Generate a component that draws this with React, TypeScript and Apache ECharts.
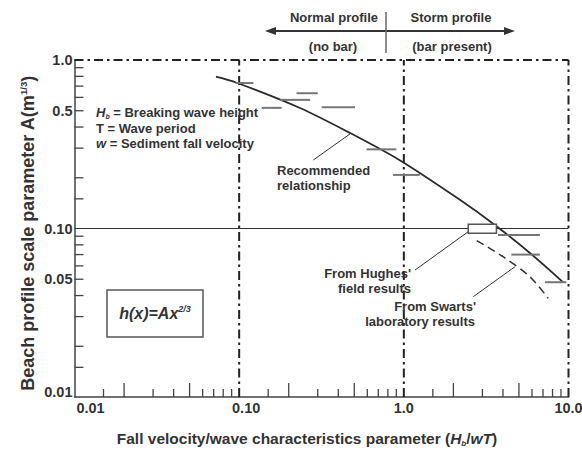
import React, { useEffect, useRef } from 'react';
import * as echarts from 'echarts';

// ---- data ----
const xTickValues = [0.015, 0.02, 0.03, 0.04, 0.05, 0.06, 0.07, 0.08, 0.09, 0.15, 0.2, 0.3, 0.4, 0.5, 0.6, 0.7, 0.8, 0.9, 1.5, 2, 3, 4, 5, 6, 7, 8, 9];
const xMajorTicks = [0.02, 0.05, 0.2, 0.5, 2, 5];
const yTickValues = [0.015, 0.02, 0.03, 0.04, 0.05, 0.06, 0.07, 0.08, 0.09, 0.15, 0.2, 0.3, 0.4, 0.5, 0.6, 0.7, 0.8, 0.9];
const xLabelValues = [0.01, 0.1, 1, 10];
const xLabelTexts = ['0.01', '0.10', '1.0', '10.0'];
const yLabelValues = [1, 0.5, 0.1, 0.05, 0.01];
const yLabelTexts = ['1.0', '0.5', '0.10', '0.05', '0.01'];
const regimeBoundsX = [0.1, 1, 10];

// recommended relationship curve
const curveX = [0.0723, 0.0966, 0.234, 0.471, 0.939, 2.19, 3.57, 5.83, 9.25];
const curveY = [0.796, 0.733, 0.519, 0.369, 0.255, 0.148, 0.105, 0.0716, 0.0481];

// field data ranges (horizontal bars)
const segX0 = [0.095, 0.223, 0.177, 0.137, 0.317, 0.594, 0.86, 3.73, 4.5, 7.2];
const segX1 = [0.122, 0.3, 0.27, 0.181, 0.505, 0.9, 1.25, 6.7, 6.7, 9.7];
const segY = [0.73, 0.635, 0.58, 0.52, 0.525, 0.295, 0.208, 0.0915, 0.07, 0.048];

// Hughes' field results box
const hughesX = [2.46, 3.65];
const hughesY = [0.0936, 0.106];

// Swarts' laboratory results (dashed)
const swartsX = [2.77, 4.01, 5.83, 7.53];
const swartsY = [0.0847, 0.068, 0.0517, 0.0385];

// leader lines
const leaderRecX = [0.282, 0.471];
const leaderRecY = [0.255, 0.364];
const leaderHugX = [1.17, 2.46];
const leaderHugY = [0.0567, 0.0957];
const leaderSwaX = [2.64, 4.73];
const leaderSwaY = [0.0394, 0.0593];

const FONT = "'Liberation Sans', Arial, Helvetica, sans-serif";
const TXT = '#333333';
const X_MIN = 0.01, X_MAX = 10, Y_MIN = 0.01, Y_MAX = 1;

const pairs = (xs: number[], ys: number[]) => xs.map((x, i) => [x, ys[i]]);

export default function App() {
  const ref = useRef<HTMLDivElement>(null);
  useEffect(() => {
    if (!ref.current) return;
    const chart = echarts.init(ref.current, undefined, { renderer: 'svg' });

    const dashDot = { color: '#222', width: 2, type: [9, 4, 2.5, 4] as any };
    const plainLine = (data: any[], style: any, z = 2) => ({
      type: 'line', data, symbol: 'none', silent: true, z, lineStyle: style, clip: false,
    });

    const boldText = (text: string, x: number, y: number, align = 'left', size = 13) => ({
      type: 'text', x, y, z: 100,
      style: { text, fill: TXT, font: `bold ${size}px ${FONT}`, align, verticalAlign: 'middle' },
    });

    const option: any = {
      animation: false,
      grid: { left: 74.5, right: 13.5, top: 60, bottom: 56 },
      xAxis: {
        type: 'log', logBase: 10, min: X_MIN, max: X_MAX,
        axisLine: { show: true, lineStyle: { color: '#444', width: 1.5 } },
        axisTick: { show: false }, axisLabel: { show: false }, splitLine: { show: false },
        name: 'Fall velocity/wave characteristics parameter ({i|H}{sub|b}{n|/}{i|wT}{n|)}',
        nameLocation: 'middle', nameGap: 32,
        nameTextStyle: {
          color: TXT, fontFamily: FONT, fontWeight: 'bold', fontSize: 15.5, lineHeight: 18,
          padding: [0, 29, 0, 0],
          rich: {
            i: { color: TXT, fontFamily: FONT, fontWeight: 'bold', fontStyle: 'italic', fontSize: 15.5, lineHeight: 18 },
            n: { color: TXT, fontFamily: FONT, fontWeight: 'bold', fontSize: 15.5, lineHeight: 18 },
            sub: { color: TXT, fontFamily: FONT, fontWeight: 'bold', fontStyle: 'italic', fontSize: 8, verticalAlign: 'bottom', lineHeight: 14 },
          },
        },
      },
      yAxis: {
        type: 'log', logBase: 10, min: Y_MIN, max: Y_MAX,
        axisLine: { show: true, lineStyle: { color: '#444', width: 1.5 } },
        axisTick: { show: false }, axisLabel: { show: false }, splitLine: { show: false },
        name: 'Beach profile scale parameter A(m{sup|1/3}{n|)}',
        nameLocation: 'middle', nameGap: 37,
        nameTextStyle: {
          color: TXT, fontFamily: FONT, fontWeight: 'bold', fontSize: 18, lineHeight: 19,
          padding: [0, 10, 0, 0],
          rich: {
            n: { color: TXT, fontFamily: FONT, fontWeight: 'bold', fontSize: 18, lineHeight: 19 },
            sup: { color: TXT, fontFamily: FONT, fontWeight: 'bold', fontSize: 9.5, verticalAlign: 'top', lineHeight: 11 },
          },
        },
      },
      series: [
        // horizontal reference at 0.10
        plainLine([[X_MIN, 0.1], [X_MAX, 0.1]], { color: '#333', width: 1 }),
        // dash-dot top border
        plainLine([[X_MIN, Y_MAX], [X_MAX, Y_MAX]], dashDot),
        // dash-dot verticals
        ...regimeBoundsX.map((v) => plainLine([[v, Y_MIN], [v, Y_MAX]], dashDot)),
        // recommended curve
        { type: 'line', data: pairs(curveX, curveY), smooth: 0.3, symbol: 'none', silent: true, z: 5,
          lineStyle: { color: '#2a2a2a', width: 1.8 } },
        // Swarts dashed
        { type: 'line', data: pairs(swartsX, swartsY), smooth: 0.3, symbol: 'none', silent: true, z: 5,
          lineStyle: { color: '#333', width: 1.5, type: [8, 5] } },
        // leader lines
        plainLine(pairs(leaderRecX, leaderRecY), { color: '#333', width: 1 }, 5),
        plainLine(pairs(leaderHugX, leaderHugY), { color: '#333', width: 1 }, 5),
        plainLine(pairs(leaderSwaX, leaderSwaY), { color: '#333', width: 1 }, 5),
        // horizontal field-data bars
        {
          type: 'custom', silent: true, z: 6, clip: false,
          encode: { x: [0, 1], y: [2] },
          data: segX0.map((v, i) => [v, segX1[i], segY[i]]),
          renderItem: (_p: any, api: any) => {
            const a = api.coord([api.value(0), api.value(2)]);
            const b = api.coord([api.value(1), api.value(2)]);
            return { type: 'line', shape: { x1: a[0], y1: a[1], x2: b[0], y2: b[1] },
              style: { stroke: '#767676', lineWidth: 2 } };
          },
        },
        // Hughes box
        {
          type: 'custom', silent: true, z: 6, clip: false,
          encode: { x: [0, 1], y: [2, 3] },
          data: [[hughesX[0], hughesX[1], hughesY[0], hughesY[1]]],
          renderItem: (_p: any, api: any) => {
            const a = api.coord([api.value(0), api.value(3)]);
            const b = api.coord([api.value(1), api.value(2)]);
            return { type: 'rect', shape: { x: a[0], y: a[1], width: b[0] - a[0], height: b[1] - a[1] },
              style: { fill: '#fff', stroke: '#555', lineWidth: 1.5 } };
          },
        },
        // x ticks
        {
          type: 'custom', silent: true, z: 4, clip: false,
          encode: { x: 0, y: 1 },
          data: xTickValues.map((v) => [v, Y_MIN, xMajorTicks.includes(v) ? 1 : 0]),
          renderItem: (_p: any, api: any) => {
            const p = api.coord([api.value(0), api.value(1)]);
            const len = api.value(2) ? 14 : 8;
            return { type: 'line', shape: { x1: p[0], y1: p[1], x2: p[0], y2: p[1] - len },
              style: { stroke: '#444', lineWidth: 1.3 } };
          },
        },
        // y ticks
        {
          type: 'custom', silent: true, z: 4, clip: false,
          encode: { x: 0, y: 1 },
          data: yTickValues.map((v) => [X_MIN, v]),
          renderItem: (_p: any, api: any) => {
            const p = api.coord([api.value(0), api.value(1)]);
            return { type: 'line', shape: { x1: p[0], y1: p[1], x2: p[0] + 9, y2: p[1] },
              style: { stroke: '#444', lineWidth: 1.3 } };
          },
        },
        // x labels
        {
          type: 'custom', silent: true, z: 4, clip: false,
          encode: { x: 0, y: 1 },
          data: xLabelValues.map((v) => [v, Y_MIN]),
          renderItem: (p: any, api: any) => {
            const c = api.coord([api.value(0), api.value(1)]);
            const i = p.dataIndex;
            const shift = i === 0 ? 16 : i === 1 ? 7 : 0;
            return { type: 'text', x: c[0] + shift, y: c[1] + 11,
              style: { text: xLabelTexts[i], fill: TXT, font: `bold 14.5px ${FONT}`, align: 'center', verticalAlign: 'middle' } };
          },
        },
        // y labels
        {
          type: 'custom', silent: true, z: 4, clip: false,
          encode: { x: 0, y: 1 },
          data: yLabelValues.map((v) => [X_MIN, v]),
          renderItem: (p: any, api: any) => {
            const c = api.coord([api.value(0), api.value(1)]);
            const i = p.dataIndex;
            const dy = i === yLabelValues.length - 1 ? -5 : 0;
            return { type: 'text', x: c[0] - 2, y: c[1] + dy,
              style: { text: yLabelTexts[i], fill: TXT, font: `bold 14.5px ${FONT}`, align: 'right', verticalAlign: 'middle' } };
          },
        },
      ],
      graphic: [
        // top regime header
        boldText('Normal profile', 334, 17, 'center'),
        boldText('Storm profile', 451, 17, 'center'),
        boldText('(no bar)', 333, 46, 'center'),
        boldText('(bar present)', 452, 46, 'center'),
        { type: 'line', z: 100, shape: { x1: 270, y1: 31, x2: 510, y2: 31 }, style: { stroke: '#333', lineWidth: 2 } },
        { type: 'polygon', z: 100, shape: { points: [[265, 31], [276, 27], [276, 35]] }, style: { fill: '#333' } },
        { type: 'polygon', z: 100, shape: { points: [[515, 31], [504, 27], [504, 35]] }, style: { fill: '#333' } },
        { type: 'line', z: 100, shape: { x1: 386, y1: 12, x2: 386, y2: 53 }, style: { stroke: '#666', lineWidth: 1.5 } },
        // definitions
        {
          type: 'text', x: 96, y: 112, z: 100,
          style: {
            text: '{i|H}{sub|b}{n| = Breaking wave height}', verticalAlign: 'middle', fill: TXT,
            rich: {
              i: { fill: TXT, fontFamily: FONT, fontWeight: 'bold', fontStyle: 'italic', fontSize: 13, lineHeight: 15 },
              n: { fill: TXT, fontFamily: FONT, fontWeight: 'bold', fontSize: 13, lineHeight: 15 },
              sub: { fill: TXT, fontFamily: FONT, fontWeight: 'bold', fontStyle: 'italic', fontSize: 7, verticalAlign: 'bottom', lineHeight: 11 },
            },
          },
        },
        boldText('T = Wave period', 96, 128),
        {
          type: 'text', x: 96, y: 143, z: 100,
          style: {
            text: '{i|w}{n| = Sediment fall velocity}', verticalAlign: 'middle', fill: TXT,
            rich: {
              i: { fill: TXT, fontFamily: FONT, fontWeight: 'bold', fontStyle: 'italic', fontSize: 13 },
              n: { fill: TXT, fontFamily: FONT, fontWeight: 'bold', fontSize: 13 },
            },
          },
        },
        // annotations
        boldText('Recommended', 277, 170),
        boldText('relationship', 277, 185),
        boldText("From Hughes'", 411, 273, 'right'),
        boldText('field results', 411, 288, 'right'),
        boldText("From Swarts'", 476, 306, 'right'),
        boldText('laboratory results', 475, 321, 'right'),
        // formula box
        { type: 'rect', z: 100, shape: { x: 107, y: 290, width: 96, height: 47 }, style: { fill: '#fff', stroke: '#555', lineWidth: 1.5 } },
        {
          type: 'text', x: 155, y: 313, z: 101,
          style: {
            text: '{i|h(x)=Ax}{sup|2/3}', align: 'center', verticalAlign: 'middle', fill: TXT,
            rich: {
              i: { fill: TXT, fontFamily: FONT, fontWeight: 'bold', fontStyle: 'italic', fontSize: 16, lineHeight: 18 },
              sup: { fill: TXT, fontFamily: FONT, fontWeight: 'bold', fontStyle: 'italic', fontSize: 9, verticalAlign: 'top', lineHeight: 10 },
            },
          },
        },
      ],
    };

    chart.setOption(option);
    return () => chart.dispose();
  }, []);

  return <div ref={ref} style={{ position: 'fixed', left: 0, top: 0, width: 582, height: 453, background: '#fff' }} />;
}
